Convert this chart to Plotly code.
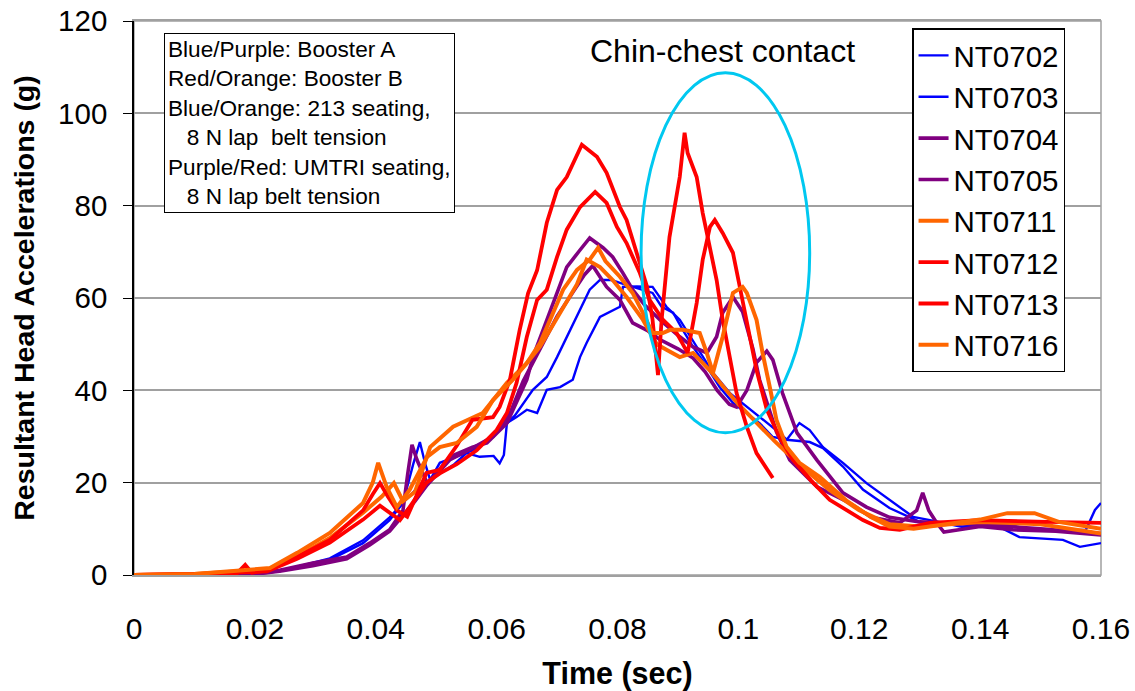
import plotly.graph_objects as go

# ---------------- data (time in s, resultant head acceleration in g) ----------------
series_names = ["NT0702", "NT0703", "NT0704", "NT0705", "NT0711", "NT0712", "NT0713", "NT0716"]

t_0702 = [0, 0.01, 0.02, 0.024, 0.027, 0.0324, 0.0379, 0.0423, 0.0445, 0.0462, 0.0473, 0.0482, 0.049, 0.0506, 0.053, 0.056, 0.058, 0.0605, 0.063, 0.066, 0.0683, 0.07, 0.0716, 0.0733, 0.0754, 0.0771, 0.079, 0.0804, 0.0825, 0.0842, 0.0858, 0.0873, 0.0892, 0.0908, 0.0925, 0.0948, 0.0969, 0.0991, 0.1014, 0.1035, 0.1057, 0.108, 0.1101, 0.1118, 0.114, 0.1173, 0.1212, 0.125, 0.1272, 0.1289, 0.1317, 0.1371, 0.1427, 0.148, 0.153, 0.1575, 0.159, 0.16]
g_0702 = [0, 0.2, 0.3, 0.8, 1.8, 3.6, 7.5, 12.5, 15.6, 24, 28.8, 24, 20.6, 24.3, 25.5, 27, 28.5, 31.4, 34.5, 40.1, 42.9, 47.2, 51.6, 55.9, 61.8, 63.9, 63.9, 63.3, 62.4, 61.8, 61.1, 58.1, 56.8, 53.1, 49.4, 45.1, 40.7, 37.3, 35.1, 32.9, 29.9, 29.3, 32.9, 31.4, 27.7, 24.3, 19.9, 16.3, 14.1, 12.6, 11.9, 10.4, 11.3, 10, 9.5, 9.8, 14.1, 15.6]

t_0703 = [0, 0.01, 0.02, 0.027, 0.0324, 0.0379, 0.0423, 0.0445, 0.047, 0.049, 0.0506, 0.053, 0.055, 0.0572, 0.0595, 0.0605, 0.0612, 0.0617, 0.0633, 0.065, 0.0667, 0.0683, 0.0705, 0.0726, 0.0738, 0.0749, 0.0771, 0.0792, 0.0804, 0.0809, 0.0832, 0.0858, 0.0881, 0.0903, 0.0931, 0.0958, 0.0986, 0.1014, 0.104, 0.1068, 0.108, 0.1118, 0.114, 0.1173, 0.1206, 0.125, 0.13, 0.137, 0.143, 0.1465, 0.1537, 0.1565, 0.16]
g_0703 = [0, 0.1, 0.3, 1.5, 3.3, 6.9, 11.9, 15.6, 19, 20.6, 22, 24, 26.4, 25.6, 25.8, 24.2, 26, 32.9, 34.2, 35.8, 35.1, 40.1, 40.7, 42.3, 47.2, 50.3, 55.9, 57.4, 58.1, 62.4, 62.5, 62.4, 58.1, 55.3, 49.4, 43.8, 39.4, 36.4, 33.6, 30.8, 29.3, 28.8, 27.5, 23.5, 18.5, 14.5, 11.5, 11, 10.5, 8.2, 7.6, 6.1, 6.9]

t_0704 = [0, 0.01, 0.02, 0.0241, 0.0296, 0.0352, 0.039, 0.0423, 0.0445, 0.0453, 0.046, 0.0468, 0.0485, 0.0495, 0.0523, 0.056, 0.0584, 0.0617, 0.065, 0.066, 0.0677, 0.0705, 0.0716, 0.0738, 0.0754, 0.0776, 0.0792, 0.0809, 0.0825, 0.0845, 0.087, 0.0903, 0.0925, 0.0948, 0.0964, 0.0974, 0.0991, 0.1007, 0.1024, 0.1035, 0.1047, 0.1063, 0.1085, 0.113, 0.1184, 0.122, 0.1267, 0.1295, 0.1305, 0.1315, 0.1328, 0.134, 0.14, 0.1454, 0.1525, 0.16]
g_0704 = [0, 0.1, 0.2, 1, 2.6, 3.9, 6.9, 9.8, 14, 22, 28.2, 25, 19.9, 21.2, 25.6, 27.7, 28.6, 32.9, 42.3, 47.2, 53.1, 63.3, 66.7, 70.4, 73, 70.9, 68.9, 65.4, 61.8, 58.5, 55.3, 51.6, 49.4, 48.1, 51.6, 56.8, 60.2, 57, 49, 42.3, 37.3, 31, 24.9, 19.1, 15.6, 12.5, 11.3, 14, 17.8, 14, 11.3, 9.3, 10.5, 9.8, 9.5, 8.7]

t_0705 = [0, 0.01, 0.02, 0.0241, 0.0296, 0.0352, 0.039, 0.0423, 0.0445, 0.0465, 0.0485, 0.0523, 0.056, 0.0594, 0.0622, 0.0644, 0.066, 0.0683, 0.07, 0.0725, 0.0745, 0.0759, 0.0782, 0.0804, 0.0825, 0.0849, 0.087, 0.09, 0.0925, 0.0945, 0.0965, 0.0985, 0.0997, 0.1014, 0.103, 0.1047, 0.1057, 0.1073, 0.1097, 0.113, 0.1173, 0.1212, 0.125, 0.13, 0.14, 0.15, 0.16]
g_0705 = [0, 0.1, 0.2, 0.8, 2, 3.5, 6.5, 9.5, 13, 16, 19.5, 25, 27.5, 30, 35, 42, 46, 52, 56, 61, 65, 67, 62.4, 59.6, 54.6, 53, 51, 49, 47, 44, 40, 37, 36.4, 40, 46, 48.5, 46.6, 39.4, 30.8, 24.9, 17.8, 14.7, 12.5, 11.5, 11, 10, 9]

t_0711 = [0, 0.01, 0.0225, 0.027, 0.0324, 0.0379, 0.041, 0.043, 0.0445, 0.0465, 0.049, 0.0528, 0.0577, 0.0594, 0.0617, 0.065, 0.0672, 0.0688, 0.071, 0.0733, 0.0749, 0.0771, 0.0792, 0.0815, 0.0842, 0.0865, 0.0881, 0.0903, 0.0925, 0.0941, 0.0955, 0.098, 0.1, 0.103, 0.106, 0.11, 0.115, 0.12, 0.125, 0.13, 0.14, 0.15, 0.16]
g_0711 = [0, 0.2, 1.2, 4, 8, 13.5, 17, 19.9, 16, 18, 27.7, 32.1, 35.1, 37.9, 41.6, 45.9, 49.5, 53, 58, 63, 68.3, 66.7, 63.9, 60.2, 55.3, 50, 48.8, 47.2, 48.1, 45.9, 44, 40, 37, 33, 29, 24, 18.5, 14, 11, 10.5, 11.5, 11, 9]

t_0712 = [0, 0.01, 0.022, 0.027, 0.0324, 0.0379, 0.0407, 0.044, 0.0456, 0.0484, 0.0506, 0.0534, 0.0567, 0.06, 0.0617, 0.0633, 0.065, 0.0667, 0.0683, 0.07, 0.0716, 0.0738, 0.0763, 0.0782, 0.0799, 0.0815, 0.0837, 0.0853, 0.0875, 0.0898, 0.0916, 0.0931, 0.0941, 0.0953, 0.0961, 0.0974, 0.0991, 0.1002, 0.1014, 0.103, 0.1047, 0.1068, 0.109, 0.112, 0.1151, 0.1206, 0.1234, 0.1267, 0.1317, 0.1399, 0.151, 0.16]
g_0712 = [0, 0.2, 0.8, 3.5, 7, 12, 15, 11.9, 14.7, 20, 22, 24, 27, 31.4, 35.1, 41.6, 51.6, 59.6, 61.8, 68.9, 74.8, 79.7, 83, 80.6, 75.4, 71.9, 65.4, 59.6, 55.3, 52.4, 48.1, 58.9, 68.3, 75.4, 76.9, 74.1, 69.8, 62.4, 55, 44.4, 35.8, 29.9, 25, 20.5, 16.3, 11.9, 10.2, 9.8, 11.3, 11.9, 11.5, 11.3]

t_0713 = [0, 0.01, 0.017, 0.0184, 0.0195, 0.022, 0.027, 0.0324, 0.0379, 0.0395, 0.0407, 0.042, 0.0435, 0.0452, 0.0484, 0.0506, 0.0534, 0.056, 0.0594, 0.0605, 0.0622, 0.0638, 0.0652, 0.0667, 0.0683, 0.07, 0.0716, 0.0741, 0.0766, 0.0782, 0.0804, 0.0815, 0.0832, 0.0849, 0.0858, 0.0867, 0.0873, 0.0886, 0.0903, 0.0911, 0.0916, 0.0931, 0.0941, 0.0953, 0.0964, 0.0974, 0.0986, 0.0997, 0.1014, 0.103, 0.1057]
g_0713 = [0, 0.2, 0.3, 2.2, 0.5, 1, 3.9, 7.6, 14, 17.5, 19.9, 17, 14, 12.6, 22.1, 22.8, 28, 33.6, 34.2, 36.4, 42.3, 53, 61, 66, 76.3, 83.4, 86.2, 93.2, 90.6, 87.1, 79.7, 76.9, 69.8, 62.4, 55.3, 43.3, 55.3, 73.2, 86.2, 95.8, 91.4, 86.2, 78.4, 71.1, 63.9, 55.3, 46.6, 39.4, 32.1, 26.4, 21]

t_0716 = [0, 0.01, 0.0225, 0.027, 0.0324, 0.0379, 0.0395, 0.0404, 0.0418, 0.0435, 0.0456, 0.0485, 0.0506, 0.0534, 0.0567, 0.0594, 0.0627, 0.065, 0.0672, 0.0688, 0.071, 0.0733, 0.0754, 0.0768, 0.078, 0.0804, 0.0825, 0.0842, 0.0858, 0.0875, 0.0887, 0.0908, 0.0936, 0.0948, 0.0958, 0.0974, 0.0991, 0.1007, 0.1014, 0.103, 0.104, 0.1052, 0.1063, 0.108, 0.1101, 0.1135, 0.118, 0.122, 0.125, 0.129, 0.135, 0.14, 0.1445, 0.149, 0.153, 0.16]
g_0716 = [0, 0.2, 1.5, 4.8, 9.1, 15.6, 20, 24.3, 19.1, 14.7, 18.4, 25.6, 27.7, 28.6, 32.1, 37.9, 42.3, 45.9, 50.3, 55.3, 61.8, 66.1, 68.3, 70.9, 68, 64.6, 61.1, 56.8, 52.4, 52.4, 53.1, 53.1, 52.4, 48, 43.8, 51.6, 61.1, 62.4, 61.1, 55.3, 48.1, 40.7, 33.6, 27.7, 24.3, 21.2, 16, 12.5, 10.5, 10, 11, 12, 13.4, 13.4, 11.5, 10]

x_tick_values = [0, 0.02, 0.04, 0.06, 0.08, 0.1, 0.12, 0.14, 0.16]
x_tick_labels = ["0", "0.02", "0.04", "0.06", "0.08", "0.1", "0.12", "0.14", "0.16"]
y_tick_values = [0, 20, 40, 60, 80, 100, 120]

note_lines = [
    "Blue/Purple: Booster A",
    "Red/Orange: Booster B",
    "Blue/Orange: 213 seating,",
    "\u00a0\u00a0\u00a08 N lap \u00a0belt tension",
    "Purple/Red: UMTRI seating,",
    "\u00a0\u00a0\u00a08 N lap belt tension",
]

# ---------------- styling ----------------
FONT = "Liberation Sans, Arial, sans-serif"
BLUE, PURPLE, ORANGE, RED = "#0000FF", "#800080", "#FF6600", "#FF0000"
styles = {
    "NT0702": (BLUE, 2.4), "NT0703": (BLUE, 2.4),
    "NT0704": (PURPLE, 3.6), "NT0705": (PURPLE, 3.6),
    "NT0711": (ORANGE, 4.0), "NT0712": (RED, 3.8),
    "NT0713": (RED, 3.8), "NT0716": (ORANGE, 4.0),
}
data = {
    "NT0702": (t_0702, g_0702), "NT0703": (t_0703, g_0703),
    "NT0704": (t_0704, g_0704), "NT0705": (t_0705, g_0705),
    "NT0711": (t_0711, g_0711), "NT0712": (t_0712, g_0712),
    "NT0713": (t_0713, g_0713), "NT0716": (t_0716, g_0716),
}

fig = go.Figure()
for name in series_names:
    tx, gy = data[name]
    col, w = styles[name]
    fig.add_trace(go.Scatter(x=tx, y=gy, mode="lines", name=name,
                             line=dict(color=col, width=w)))

fig.update_layout(
    width=1135, height=691,
    margin=dict(l=134, r=34, t=21, b=116, autoexpand=False),
    paper_bgcolor="white", plot_bgcolor="white",
    font=dict(family=FONT, color="black"),
    showlegend=True,
    legend=dict(x=0.8046, y=0.987, xanchor="left", yanchor="top",
                bgcolor="white", bordercolor="black", borderwidth=1.5,
                font=dict(size=29.5, family=FONT), tracegroupgap=0,
                itemwidth=30),
)

fig.update_xaxes(range=[0, 0.16], tickvals=x_tick_values, ticktext=x_tick_labels,
                 automargin=False, showgrid=False, zeroline=False,
                 showline=True, linecolor="#A0A0A0", linewidth=1.5, mirror=True,
                 ticks="outside", ticklen=26, tickcolor="rgba(0,0,0,0)",
                 tickfont=dict(size=30, family=FONT),
                 title=dict(text="<b>Time (sec)</b>", font=dict(size=30.5, family=FONT), standoff=22))
fig.update_yaxes(range=[0, 120], tickvals=y_tick_values,
                 automargin=False,
                 showgrid=True, gridcolor="#A0A0A0", gridwidth=1.5, zeroline=False,
                 showline=True, linecolor="black", linewidth=1.5,
                 ticks="outside", ticklen=9, tickcolor="black",
                 ticklabelstandoff=10,
                 tickfont=dict(size=29.5, family=FONT),
                 title=dict(text="<b>Resultant Head Accelerations (g)</b>",
                            font=dict(size=28.5, family=FONT), standoff=15))

# right/top gray border of plot area
fig.add_shape(type="rect", xref="paper", yref="paper", x0=0, x1=1, y0=0, y1=1,
              line=dict(color="#A0A0A0", width=1.5), layer="below")

# chin-chest contact ellipse
fig.add_shape(type="circle", xref="x", yref="y", x0=0.0839, x1=0.1118, y0=30.8, y1=108.8,
              line=dict(color="#00C8F0", width=3))
fig.add_annotation(x=0.0973, y=113.4, xref="x", yref="y", text="Chin-chest contact",
                   showarrow=False, font=dict(size=32, family=FONT), xanchor="center", yanchor="middle")

# note box
fig.add_annotation(x=0.0313, y=0.978, xref="paper", yref="paper", text="<br>".join(note_lines),
                   showarrow=False, align="left", xanchor="left", yanchor="top",
                   font=dict(size=22.6, family=FONT), bgcolor="white",
                   bordercolor="black", borderwidth=1, borderpad=3)

fig.write_html("out.html")
